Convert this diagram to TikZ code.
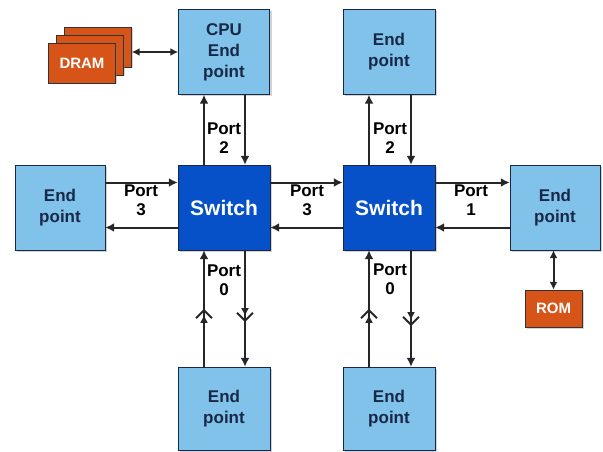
\documentclass[tikz,border=0pt]{standalone}
\usepackage{fontspec}
\setmainfont{Liberation Sans}
\usetikzlibrary{arrows.meta,decorations.markings,shadows}
\definecolor{epblue}{RGB}{128,194,234}
\definecolor{swblue}{RGB}{6,80,200}
\definecolor{memorange}{RGB}{214,84,24}
\definecolor{edgenavy}{RGB}{25,40,70}
\tikzstyle{endpt}=[rectangle,draw=edgenavy,fill=epblue,minimum width=90pt,minimum height=85pt,align=center,text=edgenavy,font=\bfseries\fontsize{17}{21}\selectfont,drop shadow={shadow xshift=2pt,shadow yshift=-2pt,opacity=0.35}]
\tikzstyle{swbox}=[rectangle,draw=edgenavy,fill=swblue,minimum width=92pt,minimum height=85pt,text=white,font=\bfseries\fontsize{21}{24}\selectfont,drop shadow={shadow xshift=2pt,shadow yshift=-2pt,opacity=0.35}]
\tikzstyle{mem}=[rectangle,draw=black!80,fill=memorange,text=white,font=\bfseries\fontsize{15}{17}\selectfont,drop shadow={shadow xshift=1.5pt,shadow yshift=-1.5pt,opacity=0.35}]
\tikzstyle{link}=[line width=2pt,black!85,-{Latex[length=9pt,width=9pt]}]
\tikzstyle{both}=[line width=2pt,black!85,{Latex[length=8pt,width=8pt]}-{Latex[length=8pt,width=8pt]}]
\tikzstyle{port}=[align=center,font=\bfseries\fontsize{17}{19}\selectfont]
\tikzset{chev/.style 2 args={postaction={decorate},decoration={markings,
  mark=at position #1 with {\arrow{Straight Barb[length=8pt,width=16pt,line width=2pt]}},
  mark=at position #2 with {\arrow{Latex[length=8pt,width=8pt]}}}}}

\begin{document}
\begin{tikzpicture}[x=1pt,y=-1pt]
\useasboundingbox (0,0) rectangle (603,452);
% memory
\node[mem,minimum width=67pt,minimum height=40pt] at (98,47) (dram3) {};
\node[mem,minimum width=67pt,minimum height=40pt] at (90,55) (dram2) {};
\node[mem,minimum width=67pt,minimum height=40pt] at (82,63) (dram) {DRAM};
\node[mem,minimum width=57pt,minimum height=37pt] at (553.5,308.5) (rom) {ROM};
% end points and switches
\node[endpt,minimum width=91pt] at (224,52) (cpu) {CPU\\End\\point};
\node[endpt,minimum width=92pt] at (389,52) (ept) {End\\point};
\node[endpt] at (60,207.5) (epl) {End\\point};
\node[swbox] at (224,207.5) (swa) {Switch};
\node[swbox] at (389,207.5) (swb) {Switch};
\node[endpt] at (555,207.5) (epr) {End\\point};
\node[endpt,minimum width=92pt,minimum height=83pt] at (224,408.5) (epa) {End\\point};
\node[endpt,minimum width=92pt,minimum height=83pt] at (389,408.5) (epb) {End\\point};
% memory links
\draw[both] (dram3.east |- cpu.west) -- (cpu.west);
\draw[both] (epr.south -| rom.north) -- (rom.north);
% port 2
\draw[link] ([xshift=-20pt]swa.north) -- ([xshift=-20pt]cpu.south);
\draw[link] ([xshift=21pt]cpu.south) -- ([xshift=21pt]swa.north);
\draw[link] ([xshift=-20pt]swb.north) -- ([xshift=-20pt]ept.south);
\draw[link] ([xshift=22pt]ept.south) -- ([xshift=22pt]swb.north);
\node[port] at (224,138) (p2a) {Port\\2};
\node[port] at (390,138) (p2b) {Port\\2};
% port 3 and port 1
\draw[link] ([yshift=25pt]epl.east) -- ([yshift=25pt]swa.west);
\draw[link] ([yshift=-20pt]swa.west) -- ([yshift=-20pt]epl.east);
\draw[link] ([yshift=25pt]swa.east) -- ([yshift=25pt]swb.west);
\draw[link] ([yshift=-20pt]swb.west) -- ([yshift=-20pt]swa.east);
\draw[link] ([yshift=25pt]swb.east) -- ([yshift=25pt]epr.west);
\draw[link] ([yshift=-20pt]epr.west) -- ([yshift=-20pt]swb.east);
\node[port] at (141,200) (p3a) {Port\\3};
\node[port] at (307,200) (p3b) {Port\\3};
\node[port] at (471,200) (p1) {Port\\1};
% port 0
\draw[link,chev={58pt}{52pt}] ([xshift=-20pt]epa.north) -- ([xshift=-20pt]swa.south);
\draw[link,chev={72pt}{66pt}] ([xshift=21pt]swa.south) -- ([xshift=21pt]epa.north);
\draw[link,chev={58pt}{52pt}] ([xshift=-20pt]epb.north) -- ([xshift=-20pt]swb.south);
\draw[link,chev={76pt}{70pt}] ([xshift=22pt]swb.south) -- ([xshift=22pt]epb.north);
\node[port] at (224,280) (p0a) {Port\\0};
\node[port] at (390,279) (p0b) {Port\\0};
\end{tikzpicture}
\end{document}
